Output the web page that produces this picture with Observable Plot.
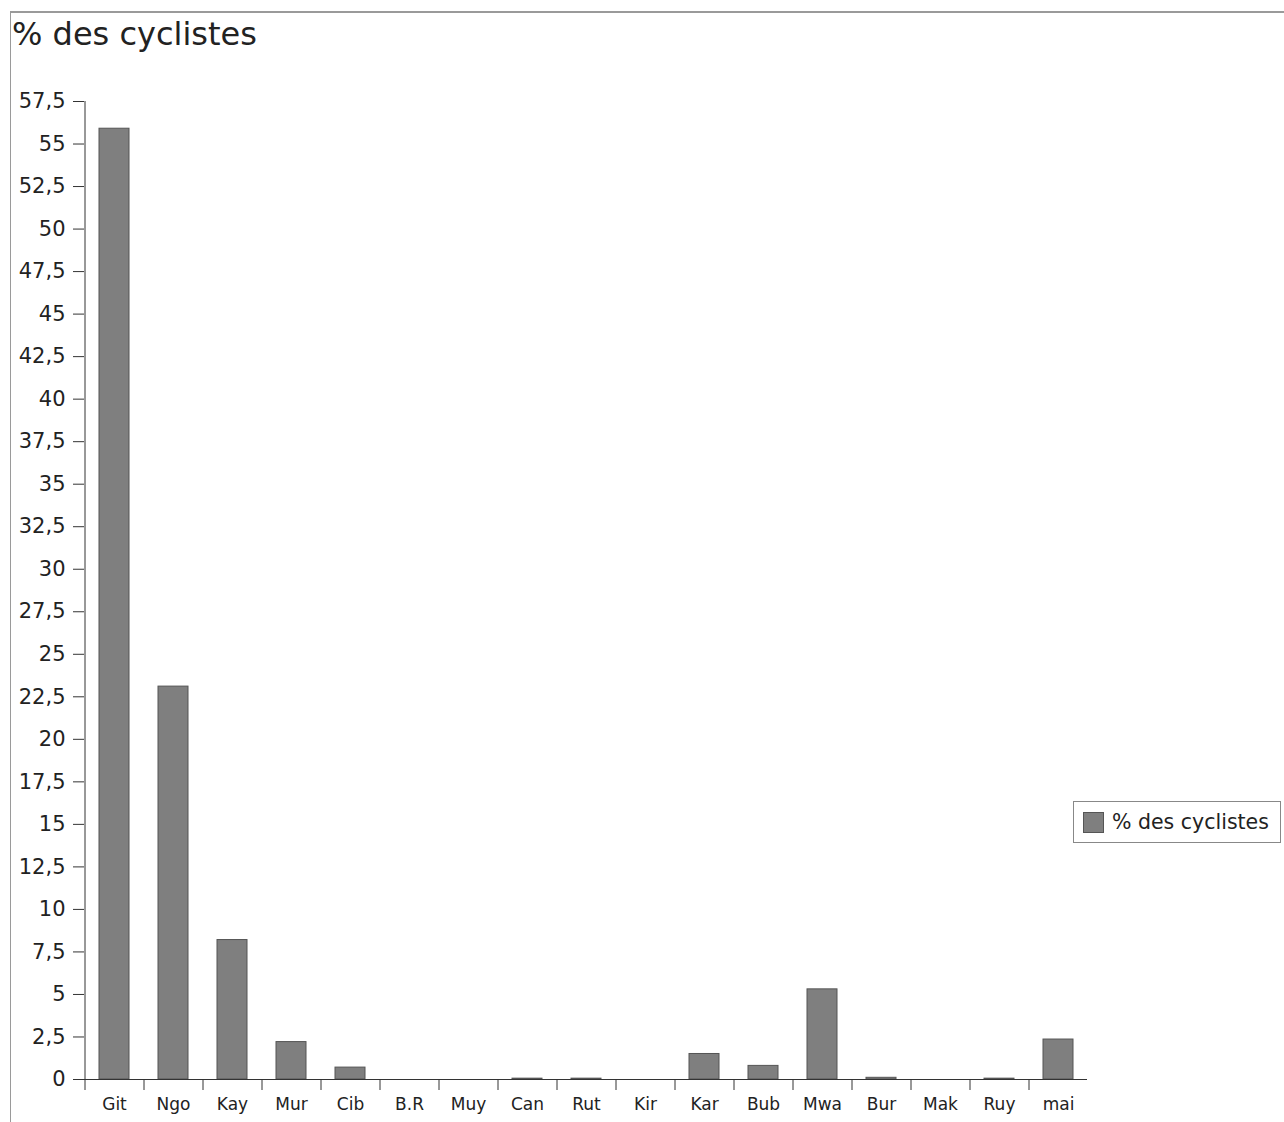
<!DOCTYPE html>
<html><head><meta charset="utf-8">
<script src="https://cdn.jsdelivr.net/npm/d3@7"></script>
<script src="https://cdn.jsdelivr.net/npm/@observablehq/plot@0.6"></script>
<style>
body{margin:0;background:#fff;font-family:"DejaVu Sans",sans-serif;}
#wrap{position:relative;width:1284px;height:1122px;overflow:hidden;background:#fff}
#frame{position:absolute;left:10px;top:11px;width:1290px;height:1200px;border-top:2px solid #9a9a9a;border-left:1px solid #9a9a9a;}
#title{position:absolute;left:12px;top:14px;font-size:32px;color:#222;line-height:40px;white-space:nowrap}
#chart{position:absolute;left:0;top:0}
#legend{position:absolute;left:1073px;top:801px;width:208px;height:42px;border:1px solid #888;box-sizing:border-box;display:flex;align-items:center;font-size:20.5px;color:#222;background:#fff;white-space:nowrap;overflow:hidden}
#legend .sw{flex:none;width:21px;height:21px;background:#7f7f7f;border:1px solid #555;margin:0 8px 0 9px;box-sizing:border-box}
</style>
</head>
<body>
<div id="wrap">
  <div id="frame"></div>
  <div id="chart"></div>
  <div id="title">% des cyclistes</div>
  <div id="legend"><div class="sw"></div><span id="legtext"></span></div>
</div>
<script>
const seriesName = "% des cyclistes";
const categories = ["Git","Ngo","Kay","Mur","Cib","B.R","Muy","Can","Rut","Kir","Kar","Bub","Mwa","Bur","Mak","Ruy","mai"];
const values = [55.9, 23.1, 8.2, 2.2, 0.7, 0, 0, 0.05, 0.05, 0, 1.5, 0.8, 5.3, 0.1, 0, 0.05, 2.35];
const yTicks = [0, 2.5, 5, 7.5, 10, 12.5, 15, 17.5, 20, 22.5, 25, 27.5, 30, 32.5, 35, 37.5, 40, 42.5, 45, 47.5, 50, 52.5, 55, 57.5];

const data = categories.map((c, i) => ({cat: c, value: values[i]}));
document.getElementById("legtext").textContent = seriesName;

const width = 1284, height = 1122;
const ml = 84, mr = 197, mt = 101, mb = 43;
const step = (width - ml - mr) / categories.length;
const yMax = yTicks[yTicks.length - 1];

const chart = Plot.plot({
  width, height,
  marginLeft: ml, marginRight: mr, marginTop: mt, marginBottom: mb,
  style: {fontFamily: "DejaVu Sans, sans-serif", background: "transparent", color: "#222"},
  x: {domain: categories, paddingInner: 0.5, paddingOuter: 0.2, label: null},
  y: {domain: [0, yMax], label: null},
  marks: [
    Plot.barY(data, {x: "cat", y: "value", fill: "#7f7f7f", stroke: "#555", strokeWidth: 1}),
    Plot.ruleY([0], {stroke: "#333"}),
    Plot.ruleX([categories[0]], {dx: -step / 2, y1: 0, y2: yMax, stroke: "#333"}),
    Plot.axisY({ticks: yTicks, tickSize: 11, tickPadding: 8, fontSize: 21, label: null,
      tickFormat: d => String(d).replace(".", ","), stroke: "#333"}),
    Plot.axisX({tickSize: 11, tickFormat: () => "", dx: -step / 2, stroke: "#333", label: null}),
    Plot.axisX({tickSize: 0, tickPadding: 18, fontSize: 17, label: null})
  ]
});
document.getElementById("chart").appendChild(chart);
</script>
</body></html>
